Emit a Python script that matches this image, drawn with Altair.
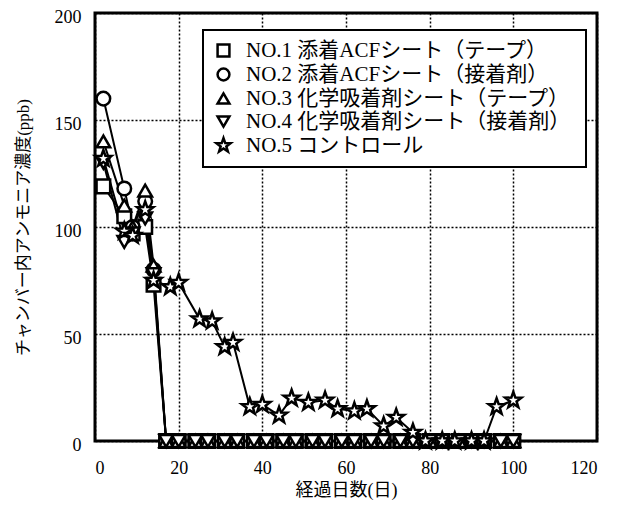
import altair as alt
import pandas as pd

series = [
    "NO.1  添着ACFシート（テープ）",
    "NO.2  添着ACFシート（接着剤）",
    "NO.3  化学吸着剤シート（テープ）",
    "NO.4  化学吸着剤シート（接着剤）",
    "NO.5  コントロール",
]

days_a = [2, 7, 9, 12, 14, 17, 20, 24, 27, 31, 34, 38, 41, 45, 48, 52, 55, 59, 62, 66,
          69, 73, 76, 80, 83, 87, 90, 93, 97, 100]
no1 = [119, 105, 97, 100, 73, 0, 0, 0, 0, 0, 0, 0, 0, 0, 0, 0, 0, 0, 0, 0,
       0, 0, 0, 0, 0, 0, 0, 0, 0, 0]
no2 = [160, 118, 100, 112, 80, 0, 0, 0, 0, 0, 0, 0, 0, 0, 0, 0, 0, 0, 0, 0,
       0, 0, 0, 0, 0, 0, 0, 0, 0, 0]
no3 = [140, 110, 100, 117, 82, 0, 0, 0, 0, 0, 0, 0, 0, 0, 0, 0, 0, 0, 0, 0,
       0, 0, 0, 0, 0, 0, 0, 0, 0, 0]
no4 = [130, 93, 97, 104, 78, 0, 0, 0, 0, 0, 0, 0, 0, 0, 0, 0, 0, 0, 0, 0,
       0, 0, 0, 0, 0, 0, 0, 0, 0, 0]

days_b = [2, 7, 9, 12, 14, 18, 20, 25, 28, 31, 33, 37, 40, 44, 47, 51, 55, 58, 62, 65,
          69, 72, 76, 79, 83, 86, 90, 93, 96, 100]
no5 = [132, 98, 96, 108, 75, 72, 74, 57, 56, 44, 46, 16, 17, 12, 20, 18, 19, 15, 14, 15,
       7, 11, 4, 0, 0, 0, 0, 0, 16, 19]

x_ticks = [0, 20, 40, 60, 80, 100, 120]
y_ticks = [0, 50, 100, 150, 200]

star = ("M0,-1.25L0.294,-0.405L1.189,-0.386L0.475,0.155L0.735,1.011L0,0.5"
        "L-0.735,1.011L-0.475,0.155L-1.189,-0.386L-0.294,-0.405Z")
shapes = ["square", "circle", "triangle-up", "triangle-down", star]

rows = []
for name, d, v in [(series[0], days_a, no1), (series[1], days_a, no2),
                   (series[2], days_a, no3), (series[3], days_a, no4),
                   (series[4], days_b, no5)]:
    for dd, vv in zip(d, v):
        rows.append({"series": name, "day": dd, "value": vv})
df = pd.DataFrame(rows)

FONT = '"Liberation Serif", "Noto Sans CJK JP", serif'

x = alt.X("day:Q", scale=alt.Scale(domain=[0, 120], nice=False),
          axis=alt.Axis(values=x_ticks, title="経過日数(日)", grid=True,
                        gridDash=[2, 2], gridColor="black", gridWidth=1.5, gridOpacity=1,
                        domain=False, ticks=False, labelPadding=18, labelFontSize=18,
                        titleFontSize=18, titleFontWeight="normal", titlePadding=4,
                        labelColor="black", titleColor="black"))
y = alt.Y("value:Q", scale=alt.Scale(domain=[0, 200], nice=False),
          axis=alt.Axis(values=y_ticks, title="チャンバー内アンモニア濃度(ppb)", grid=True,
                        gridDash=[2, 2], gridColor="black", gridWidth=1.5, gridOpacity=1,
                        domain=False, ticks=False, labelPadding=14, labelFontSize=18,
                        labelOffset=4,
                        titleFontSize=17, titleFontWeight="normal", titlePadding=22,
                        labelColor="black", titleColor="black"))

lines = alt.Chart(df).mark_line(color="black", strokeWidth=2).encode(
    x=x, y=y, detail="series:N", order="day:Q")

points = alt.Chart(df).mark_point(filled=True, color="white", fill="white",
                                  stroke="black", strokeWidth=2.5, opacity=1,
                                  size=185).encode(
    x=x, y=y,
    shape=alt.Shape("series:N", scale=alt.Scale(domain=series, range=shapes),
                    legend=alt.Legend(title=None, orient="none", legendX=108, legendY=17,
                                      fillColor="white", strokeColor="black",
                                      padding=10, rowPadding=1, labelFontSize=21,
                                      labelLimit=500, symbolSize=140,
                                      symbolStrokeWidth=2.5,
                                      labelColor="black", labelOffset=12)),
)

chart = (lines + points).properties(
    width=502, height=428,
    autosize=alt.AutoSizeParams(type="none"),
    padding={"left": 87, "top": 5, "right": 26, "bottom": 61},
).configure(font=FONT).configure_view(
    stroke="black", strokeWidth=3
).configure_legend(strokeWidth=2)

chart.save("out.html", embed_options={"renderer": "svg", "actions": False})
